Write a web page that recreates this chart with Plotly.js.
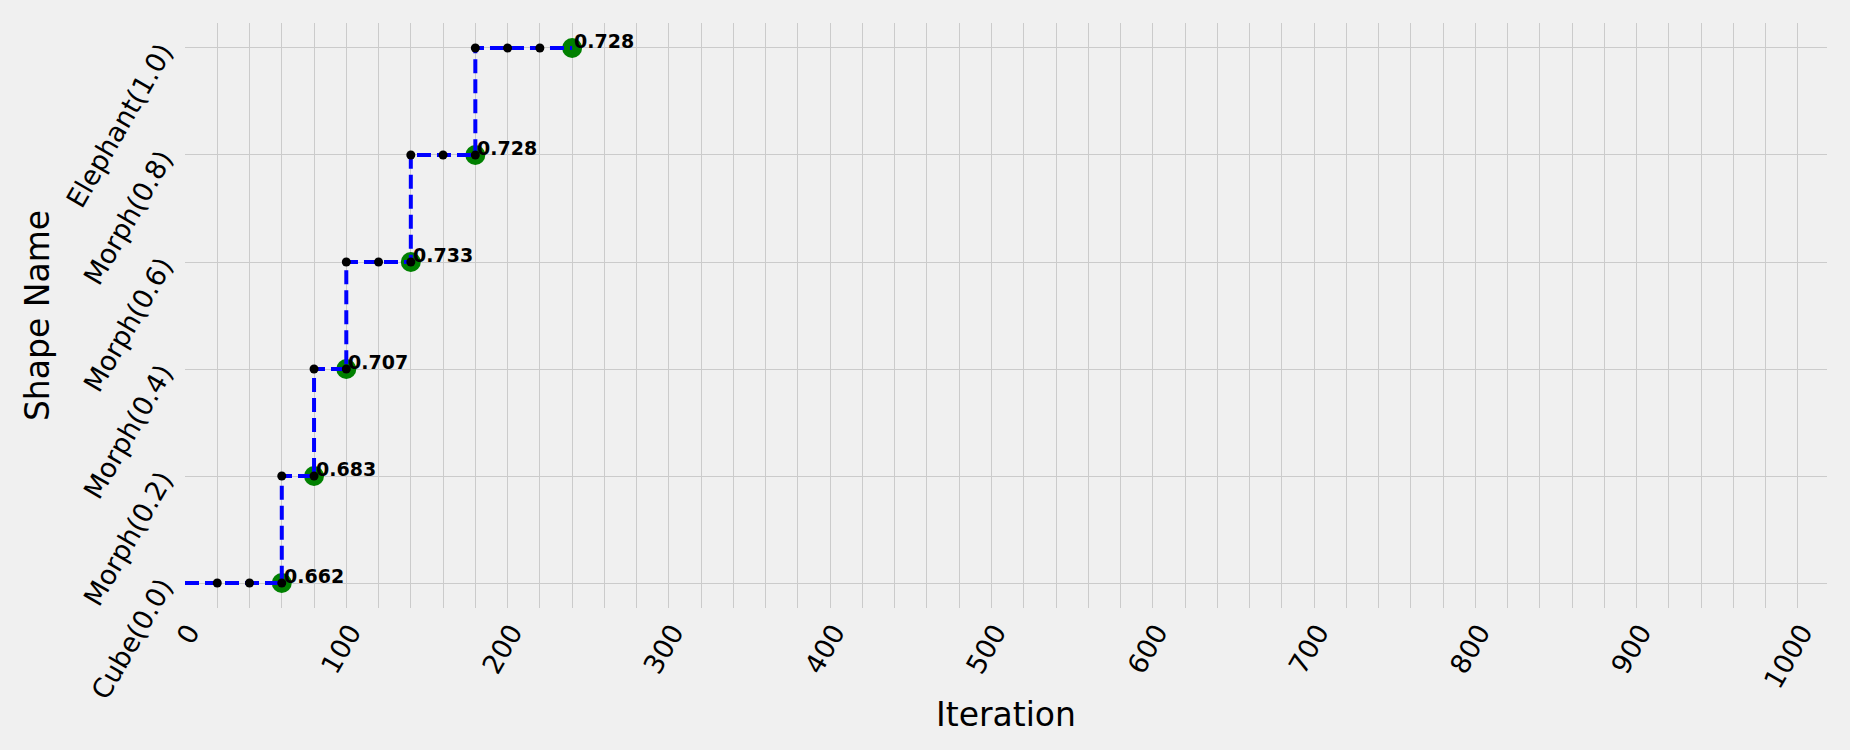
<!DOCTYPE html>
<html>
<head>
<meta charset="utf-8">
<script src="https://cdn.plot.ly/plotly-3.0.1.min.js"></script>
<style>
    html, body { margin: 0; padding: 0; background: #f0f0f0; }
    #shapePath { width: 1850px; height: 750px; }
</style>
</head>
<body>
<div id="shapePath"></div>
<script>
// Caminho percorrido (iteração x forma)
const iterations = [0, 20, 40, 60, 60, 80, 80, 100, 100, 120, 140, 140, 160, 180, 180, 200, 220, 240];
const shapeLevels = [0, 0, 0, 0, 0.2, 0.2, 0.4, 0.4, 0.6, 0.6, 0.6, 0.8, 0.8, 0.8, 1.0, 1.0, 1.0, 1.0];

// Pontos aceitos e seus scores
const acceptedIter = [60, 80, 100, 140, 180, 240];
const acceptedLevel = [0, 0.2, 0.4, 0.6, 0.8, 1.0];
const acceptedScore = [0.662, 0.683, 0.707, 0.733, 0.728, 0.728];

// Rótulos dos eixos
const shapeTickVals = [0, 0.2, 0.4, 0.6, 0.8, 1.0];
const shapeTickText = ['Cube(0.0)', 'Morph(0.2)', 'Morph(0.4)', 'Morph(0.6)', 'Morph(0.8)', 'Elephant(1.0)'];
const iterTickVals = [0, 100, 200, 300, 400, 500, 600, 700, 800, 900, 1000];

const config = {
    responsive: false,
    displayModeBar: false
}

const gridColor = '#cbcbcb';
const fontFamily = 'DejaVu Sans, sans-serif';

// Marcadores verdes ficam por baixo da linha
var accepted = {
    x: acceptedIter,
    y: acceptedLevel,
    mode: 'markers',
    type: 'scatter',
    marker: { color: 'green', size: 20 },
    hoverinfo: 'skip'
}

var path = {
    x: iterations,
    y: shapeLevels,
    mode: 'lines',
    type: 'scatter',
    line: { color: 'blue', width: 4, dash: '14px,6px' },
    hoverinfo: 'skip'
}

// Pontos pretos nas iterações intermediárias
var dots = {
    x: iterations.slice(1, -1),
    y: shapeLevels.slice(1, -1),
    mode: 'markers',
    type: 'scatter',
    marker: { color: 'black', size: 9 },
    hoverinfo: 'skip'
}

// Texto com o score ao lado de cada ponto aceito
var notes = acceptedIter.map((it, i) => {
    return {
        x: it,
        y: acceptedLevel[i],
        text: '<b>' + acceptedScore[i].toFixed(3) + '</b>',
        showarrow: false,
        xanchor: 'left',
        yanchor: 'bottom',
        xshift: 0,
        yshift: -6,
        font: { family: fontFamily, size: 19, color: 'black' }
    }
});

const layout = {
    width: 1850,
    height: 750,
    showlegend: false,
    paper_bgcolor: '#f0f0f0',
    plot_bgcolor: '#f0f0f0',
    font: { family: fontFamily, color: 'black', size: 27 },
    margin: { l: 185, r: 23, t: 23, b: 142 },
    xaxis: {
        range: [0, 1018],
        tickvals: iterTickVals,
        tickangle: -60,
        ticklabelshift: 4,
        ticklabelstandoff: 2,
        showgrid: true,
        gridcolor: gridColor,
        gridwidth: 1.3,
        minor: { tick0: 0, dtick: 20, showgrid: true, gridcolor: gridColor, gridwidth: 1.3 },
        zeroline: false,
        showline: false,
        ticks: '',
        automargin: false,
        title: { text: 'Iteration', font: { size: 33 }, standoff: 10 }
    },
    yaxis: {
        range: [-0.0467, 1.0467],
        tickvals: shapeTickVals,
        ticktext: shapeTickText,
        tickangle: -60,
        ticklabelstandoff: 22,
        showgrid: true,
        gridcolor: gridColor,
        gridwidth: 1.3,
        zeroline: false,
        showline: false,
        ticks: '',
        automargin: false,
        title: { text: 'Shape Name', font: { size: 33 }, standoff: 0 }
    },
    annotations: notes
};

Plotly.newPlot('shapePath', [accepted, path, dots], layout, config);
</script>
</body>
</html>
